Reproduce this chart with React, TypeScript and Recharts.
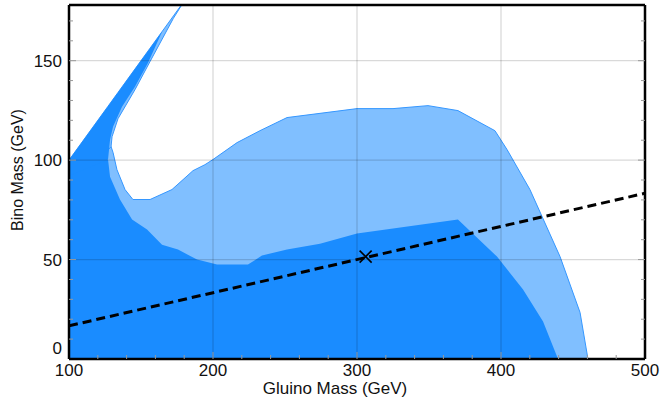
import React from "react";
import {
  ComposedChart,
  Area,
  Line,
  Scatter,
  XAxis,
  YAxis,
  ReferenceLine,
  Label,
} from "recharts";

const xTicks = [100, 120, 140, 160, 180, 200, 220, 240, 260, 280, 300, 320, 340, 360, 380, 400, 420, 440, 460, 480, 500];
const yTicks = [0, 10, 20, 30, 40, 50, 60, 70, 80, 90, 100, 110, 120, 130, 140, 150, 160, 170];
const xGrid = [200, 300, 400];
const yGrid = [50, 100, 150];
const xFrame = [100, 500];
const yFrame = [0, 178];

// light contour, lower body (0 up to the upper edge)
const lightBody = [
  { x: 100, y: 100 }, { x: 127, y: 105 }, { x: 129.2, y: 106.8 }, { x: 130.6, y: 103.8 },
  { x: 133.3, y: 95.2 }, { x: 138.9, y: 85.2 }, { x: 144.4, y: 80.2 }, { x: 156.3, y: 80.2 },
  { x: 171.5, y: 85.2 }, { x: 179.2, y: 90.2 }, { x: 186.1, y: 94.7 }, { x: 194.4, y: 97.7 },
  { x: 200, y: 100.3 }, { x: 216.7, y: 108.8 }, { x: 232.6, y: 114.8 }, { x: 251.4, y: 121.4 },
  { x: 300, y: 125.9 }, { x: 325, y: 125.9 }, { x: 349.3, y: 127.4 }, { x: 370.1, y: 124.9 },
  { x: 395.8, y: 114.8 }, { x: 404.2, y: 105.3 }, { x: 420.1, y: 85.2 }, { x: 441, y: 51.5 },
  { x: 454.9, y: 23.4 }, { x: 460.4, y: 0 },
];

// light contour, thin horn along the diagonal
const lightHorn = [
  { x: 100, lo: 100, hi: 100 }, { x: 127, lo: 105, hi: 127 }, { x: 129.2, lo: 106.8, hi: 129.2 },
  { x: 129.9, lo: 111.8, hi: 129.9 }, { x: 134, lo: 120.8, hi: 134 }, { x: 145.8, lo: 135.4, hi: 145.8 },
  { x: 156.3, lo: 149.6, hi: 156.3 }, { x: 172.5, lo: 171.3, hi: 172.5 }, { x: 180, lo: 180, hi: 180 },
];

// dark contour
const darkBody = [
  { x: 100, y: 100 }, { x: 127.1, y: 100.3 }, { x: 128.5, y: 91.7 }, { x: 135.4, y: 80.2 },
  { x: 143.8, y: 70.1 }, { x: 154.2, y: 65.1 }, { x: 164.6, y: 57.5 }, { x: 175.7, y: 55 },
  { x: 188.9, y: 50 }, { x: 202.8, y: 47.5 }, { x: 224.3, y: 47.5 }, { x: 234, y: 52 },
  { x: 251.4, y: 55 }, { x: 274.3, y: 58 }, { x: 300, y: 63.1 }, { x: 370.1, y: 70.1 },
  { x: 397.2, y: 51.5 }, { x: 415.3, y: 34.9 }, { x: 429.2, y: 18.8 }, { x: 439.6, y: 0 },
];

const darkHorn = [
  { x: 100, lo: 92, hi: 100 }, { x: 127.1, lo: 100.3, hi: 127.1 }, { x: 128.5, lo: 110.3, hi: 128.5 },
  { x: 130.6, lo: 116.8, hi: 130.6 }, { x: 136.8, lo: 126.9, hi: 136.8 }, { x: 145.8, lo: 136.9, hi: 145.8 },
  { x: 154.9, lo: 149, hi: 154.9 }, { x: 164.6, lo: 164.6, hi: 164.6 },
];

const dashed = [{ x: 100, y: 16.67 }, { x: 500, y: 83.33 }];
const bestFit = [{ x: 306, y: 51.5 }];

const font = "'Liberation Sans', Arial, Helvetica, sans-serif";
const DARK = "#1a8cff";
const LIGHT = "#80bfff";

const XTick = ({ x, y, payload }: any) => {
  const v = payload.value;
  const major = v % 100 === 0;
  return (
    <g>
      {v !== 100 && v !== 500 && (
        <line x1={x} x2={x} y1={y} y2={y - (major ? 7 : 4)} stroke="#999" />
      )}
      {major && (
        <text x={x} y={y + 17} textAnchor="middle" fontSize={17} fontFamily={font} fill="#111">
          {v}
        </text>
      )}
    </g>
  );
};

const YTick = ({ x, y, payload }: any) => {
  const v = payload.value;
  const major = v % 50 === 0;
  return (
    <g>
      {v !== 0 && <line x1={x} x2={x + (major ? 7 : 4)} y1={y} y2={y} stroke="#999" />}
      {major && (
        <text x={x - 7} y={v === 0 ? y - 5 : y + 6} textAnchor="end" fontSize={17} fontFamily={font} fill="#111">
          {v}
        </text>
      )}
    </g>
  );
};

const RightTick = ({ x, y, payload }: any) => {
  const v = payload.value;
  if (v === 0) return <g />;
  return <line x1={x} x2={x - (v % 50 === 0 ? 7 : 4)} y1={y} y2={y} stroke="#999" />;
};

const Cross = ({ cx, cy }: any) => (
  <g stroke="#000" strokeWidth={1.6}>
    <line x1={cx - 6} y1={cy - 6} x2={cx + 6} y2={cy + 6} />
    <line x1={cx - 6} y1={cy + 6} x2={cx + 6} y2={cy - 6} />
  </g>
);

export default function App() {
  return (
    <div style={{ position: "absolute", left: 0, top: 0, width: 662, height: 410, background: "#fff" }}>
      <ComposedChart width={662} height={410} margin={{ top: 5, right: 0, bottom: 0, left: 0 }}>
        <XAxis
          dataKey="x"
          type="number"
          domain={[100, 500]}
          ticks={xTicks}
          interval={0}
          allowDataOverflow
          axisLine={false}
          tickLine={false}
          tickSize={0}
          tickMargin={0}
          height={51}
          tick={<XTick />}
        >
          <Label
            content={() => (
              <text x={335} y={394} textAnchor="middle" fontSize={17} fontFamily={font} fill="#111">
                Gluino Mass (GeV)
              </text>
            )}
          />
        </XAxis>
        <YAxis
          type="number"
          domain={[0, 178]}
          ticks={yTicks}
          interval={0}
          allowDataOverflow
          axisLine={false}
          tickLine={false}
          tickSize={0}
          tickMargin={0}
          width={69}
          tick={<YTick />}
        >
          <Label
            content={() => (
              <text x={23} y={170} transform="rotate(-90, 23, 170)" textAnchor="middle" fontSize={16} fontFamily={font} fill="#111">
                Bino Mass (GeV)
              </text>
            )}
          />
        </YAxis>
        <YAxis
          yAxisId="r"
          orientation="right"
          type="number"
          domain={[0, 178]}
          ticks={yTicks}
          interval={0}
          allowDataOverflow
          axisLine={false}
          tickLine={false}
          tickSize={0}
          tickMargin={0}
          width={17}
          tick={<RightTick />}
        />

        <Area data={lightBody} dataKey="y" type="linear" baseValue={0} fill={LIGHT} fillOpacity={1} stroke="#3597ff" strokeWidth={1} isAnimationActive={false} />
        <Area data={lightHorn} dataKey={(d: any) => [d.lo, d.hi]} type="linear" fill={LIGHT} fillOpacity={1} stroke="#3597ff" strokeWidth={1} isAnimationActive={false} />
        <Area data={darkBody} dataKey="y" type="linear" baseValue={0} fill={DARK} fillOpacity={1} stroke="none" isAnimationActive={false} />
        <Area data={darkHorn} dataKey={(d: any) => [d.lo, d.hi]} type="linear" fill={DARK} fillOpacity={1} stroke="none" isAnimationActive={false} />

        {xGrid.map((v) => (
          <ReferenceLine key={"gx" + v} x={v} stroke="rgba(0,0,0,0.15)" strokeWidth={1.3} />
        ))}
        {yGrid.map((v) => (
          <ReferenceLine key={"gy" + v} y={v} stroke="rgba(0,0,0,0.15)" strokeWidth={1.3} />
        ))}

        <Line data={dashed} dataKey="y" type="linear" stroke="#000" strokeWidth={3} strokeDasharray="9 5" dot={false} isAnimationActive={false} />
        <Scatter data={bestFit} dataKey="y" shape={<Cross />} isAnimationActive={false} />

        {xFrame.map((v) => (
          <ReferenceLine key={"fx" + v} x={v} stroke="#000" strokeWidth={2.5} />
        ))}
        {yFrame.map((v) => (
          <ReferenceLine key={"fy" + v} y={v} stroke="#000" strokeWidth={2.5} />
        ))}
      </ComposedChart>
    </div>
  );
}
